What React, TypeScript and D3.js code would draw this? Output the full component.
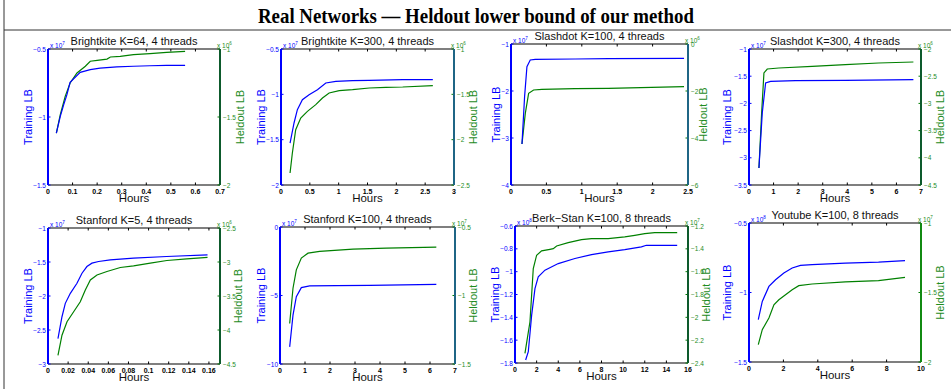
import React from 'react';
import * as d3 from 'd3';

const FIG_TITLE = 'Real Networks — Heldout lower bound of our method';

const panelTitles = [
  'Brightkite K=64, 4 threads',
  'Brightkite K=300, 4 threads',
  'Slashdot K=100, 4 threads',
  'Slashdot K=300, 4 threads',
  'Stanford K=5, 4 threads',
  'Stanford K=100, 4 threads',
  'Berk\u2212Stan K=100, 8 threads',
  'Youtube K=100, 8 threads',
];

const trainExp = [7, 7, 7, 7, 7, 7, 8, 8];
const heldExp = [6, 6, 6, 6, 6, 7, 7, 7];

const xDomains = [[0, 0.7], [0, 3], [0, 2.5], [0, 7], [0, 0.171], [0, 7], [0, 16], [0, 10]];
const xTicks = [
  [0, 0.1, 0.2, 0.3, 0.4, 0.5, 0.6, 0.7],
  [0, 0.5, 1, 1.5, 2, 2.5, 3],
  [0, 0.5, 1, 1.5, 2, 2.5],
  [0, 1, 2, 3, 4, 5, 6, 7],
  [0, 0.02, 0.04, 0.06, 0.08, 0.1, 0.12, 0.14, 0.16],
  [0, 1, 2, 3, 4, 5, 6, 7],
  [0, 2, 4, 6, 8, 10, 12, 14, 16],
  [0, 2, 4, 6, 8, 10],
];

const trainDomains = [[-1.5, -0.5], [-2, -0.5], [-4, -1], [-3.5, -1], [-3, -1], [-10, 0], [-1.8, -0.6], [-1.5, -0.5]];
const trainTicks = [
  [-1.5, -1, -0.5],
  [-2, -1.5, -1, -0.5],
  [-4, -3, -2, -1],
  [-3.5, -3, -2.5, -2, -1.5, -1],
  [-3, -2.5, -2, -1.5, -1],
  [-10, -5, 0],
  [-1.8, -1.6, -1.4, -1.2, -1, -0.8, -0.6],
  [-1.5, -1, -0.5],
];
const heldDomains = [[-2, -1], [-2.5, -1], [-6, 0], [-4.5, -2], [-4.5, -2.5], [-1.5, -0.5], [-2.4, -1.2], [-2, -1]];
const heldTicks = [
  [-2, -1.5, -1],
  [-2.5, -2, -1.5, -1],
  [-6, -4, -2, 0],
  [-4.5, -4, -3.5, -3, -2.5, -2],
  [-4.5, -4, -3.5, -3, -2.5],
  [-1.5, -1, -0.5],
  [-2.4, -2.2, -2, -1.8, -1.6, -1.4, -1.2],
  [-2, -1.5, -1],
];

// ---- data: [hours, value] ----
const brightkite64Train = [[0.034, -1.118], [0.05, -0.995], [0.064, -0.909], [0.077, -0.836], [0.09, -0.745], [0.131, -0.672], [0.172, -0.652], [0.212, -0.64], [0.28, -0.632], [0.348, -0.627], [0.415, -0.623], [0.483, -0.62], [0.558, -0.62]];
const brightkite64Held = [[0.034, -1.618], [0.05, -1.483], [0.07, -1.348], [0.09, -1.25], [0.118, -1.176], [0.152, -1.127], [0.172, -1.09], [0.2, -1.083], [0.24, -1.074], [0.254, -1.059], [0.294, -1.054], [0.348, -1.042], [0.415, -1.034], [0.483, -1.025], [0.558, -1.017]];

const brightkite300Train = [[0.157, -1.537], [0.226, -1.316], [0.284, -1.169], [0.371, -1.059], [0.487, -1.004], [0.632, -0.949], [0.777, -0.875], [0.951, -0.857], [1.241, -0.849], [1.531, -0.846], [2.11, -0.838], [2.633, -0.838]];
const brightkite300Held = [[0.157, -2.368], [0.197, -2.147], [0.255, -1.89], [0.342, -1.761], [0.458, -1.688], [0.603, -1.614], [0.719, -1.54], [0.835, -1.485], [1.009, -1.46], [1.241, -1.449], [1.531, -1.43], [1.82, -1.423], [2.11, -1.419], [2.633, -1.404]];

const slashdot100Train = [[0.155, -3.128], [0.192, -2.12], [0.225, -1.482], [0.272, -1.34], [0.342, -1.326], [0.905, -1.319], [1.374, -1.312], [2.444, -1.305]];
const slashdot100Held = [[0.155, -4.255], [0.202, -2.95], [0.249, -2.1], [0.319, -1.957], [0.436, -1.929], [0.905, -1.9], [1.374, -1.887], [2.444, -1.816]];

const slashdot300Train = [[0.405, -3.188], [0.54, -2.176], [0.676, -1.625], [0.878, -1.594], [1.89, -1.582], [3.92, -1.576], [6.69, -1.564]];
const slashdot300Held = [[0.405, -4.188], [0.514, -3.176], [0.608, -2.441], [0.743, -2.368], [1.216, -2.349], [2.57, -2.319], [3.92, -2.288], [5.27, -2.257], [6.69, -2.239]];

const stanford5Train = [[0.0099, -2.626], [0.0139, -2.305], [0.0172, -2.108], [0.0222, -1.961], [0.0288, -1.813], [0.0338, -1.665], [0.0387, -1.567], [0.0437, -1.517], [0.0503, -1.493], [0.0619, -1.468], [0.0851, -1.443], [0.118, -1.419], [0.1586, -1.394]];
const stanford5Held = [[0.0099, -4.372], [0.0139, -4.076], [0.0189, -3.879], [0.0255, -3.732], [0.0321, -3.584], [0.0371, -3.411], [0.0421, -3.264], [0.0487, -3.19], [0.0586, -3.14], [0.0719, -3.081], [0.0851, -3.057], [0.1017, -3.017], [0.1182, -2.978], [0.138, -2.953], [0.1586, -2.933]];

const stanford100Train = [[0.387, -8.753], [0.52, -6.43], [0.653, -5.086], [0.853, -4.425], [1.187, -4.303], [2.253, -4.279], [3.587, -4.254], [6.253, -4.181]];
const stanford100Held = [[0.387, -1.204], [0.52, -0.947], [0.653, -0.813], [0.853, -0.727], [1.12, -0.691], [1.587, -0.678], [2.92, -0.661], [4.253, -0.654], [6.253, -0.647]];

const berkStanTrain = [[0.985, -1.774], [1.23, -1.701], [1.54, -1.381], [1.846, -1.148], [2.15, -1.046], [2.77, -0.987], [4.0, -0.929], [5.54, -0.885], [7.08, -0.85], [8.62, -0.827], [10.15, -0.807], [11.69, -0.783], [12.15, -0.769], [15.0, -0.769]];
const berkStanHeld = [[0.92, -2.315], [1.385, -2.039], [1.69, -1.573], [2.0, -1.456], [2.46, -1.418], [3.23, -1.404], [3.54, -1.398], [3.85, -1.375], [4.92, -1.346], [6.15, -1.319], [7.08, -1.311], [8.62, -1.311], [10.15, -1.296], [11.08, -1.282], [12.0, -1.267], [12.92, -1.258], [15.0, -1.258]];

const youtubeTrain = [[0.54, -1.195], [0.772, -1.064], [1.158, -0.956], [1.544, -0.908], [2.027, -0.86], [2.51, -0.824], [2.992, -0.805], [3.668, -0.8], [5.6, -0.788], [7.53, -0.781], [9.07, -0.771]];
const youtubeHeld = [[0.54, -1.875], [0.772, -1.767], [1.158, -1.683], [1.448, -1.588], [1.737, -1.552], [2.124, -1.516], [2.51, -1.48], [2.896, -1.451], [3.668, -1.439], [5.6, -1.424], [7.53, -1.415], [9.07, -1.391]];

const trainSeries = [brightkite64Train, brightkite300Train, slashdot100Train, slashdot300Train, stanford5Train, stanford100Train, berkStanTrain, youtubeTrain];
const heldSeries = [brightkite64Held, brightkite300Held, slashdot100Held, slashdot300Held, stanford5Held, stanford100Held, berkStanHeld, youtubeHeld];

// ---- layout (pixels) ----
const boxes = [
  { l: 48, r: 220, t: 49, b: 185 },
  { l: 281, r: 454, t: 49, b: 185 },
  { l: 511, r: 688, t: 44, b: 185 },
  { l: 749, r: 921, t: 49, b: 185 },
  { l: 48, r: 220, t: 228, b: 364 },
  { l: 280, r: 455, t: 227, b: 364 },
  { l: 515, r: 688, t: 226, b: 363 },
  { l: 749, r: 921, t: 223, b: 362 },
];
const trainLabelX = [28, 261, 496, 727, 28, 261, 495, 727];
const heldLabelX = [240, 473, 703, 940, 238, 473, 706, 940];
const rightAxisColor = ['#0d5a2c', '#1f6585', '#1f6585', '#0d5a2c', '#0d5a2c', '#1f6585', '#0d5a2c', '#118a11'];

const BLUE = '#0000ff';
const GREEN = '#008000';
const TXT_GREEN = '#1e8c1e';
const SANS = '"Liberation Sans", Arial, sans-serif';

function fmt(v: number) {
  return d3.format('~g')(+v.toFixed(4)).replace('-', '\u2212');
}

function Panel({ i }: { i: number }) {
  const bx = boxes[i];
  const x = d3.scaleLinear().domain(xDomains[i]).range([bx.l, bx.r]);
  const yL = d3.scaleLinear().domain(trainDomains[i]).range([bx.b, bx.t]);
  const yR = d3.scaleLinear().domain(heldDomains[i]).range([bx.b, bx.t]);
  const lineL = d3.line<number[]>().x((d) => x(d[0])).y((d) => yL(d[1]));
  const lineR = d3.line<number[]>().x((d) => x(d[0])).y((d) => yR(d[1]));
  const cy = (bx.t + bx.b) / 2;
  return (
    <g>
      <text x={(bx.l + bx.r) / 2} y={bx.t - 4} textAnchor="middle" fontSize={11} fontFamily={SANS} fill="#111">
        {panelTitles[i]}
      </text>
      <line x1={bx.l} x2={bx.r} y1={bx.t} y2={bx.t} stroke="#000" strokeWidth={1.2} />
      <line x1={bx.l} x2={bx.r} y1={bx.b} y2={bx.b} stroke="#000" strokeWidth={1.2} />
      {xTicks[i].map((t, k) => (
        <g key={k}>
          <line x1={x(t)} x2={x(t)} y1={bx.b} y2={bx.b - 2.5} stroke="#000" strokeWidth={1} />
          <line x1={x(t)} x2={x(t)} y1={bx.t} y2={bx.t + 2.5} stroke="#000" strokeWidth={1} />
          <text x={x(t)} y={bx.b + 8.5} textAnchor="middle" fontSize={7} fontWeight="bold" fontFamily={SANS} fill="#000">
            {fmt(t)}
          </text>
        </g>
      ))}
      <text x={(bx.l + bx.r) / 2} y={bx.b + 17} textAnchor="middle" fontSize={11.5} fontFamily={SANS} fill="#111">
        Hours
      </text>
      {trainTicks[i].map((t, k) => (
        <g key={k}>
          <line x1={bx.l} x2={bx.l + 2.5} y1={yL(t)} y2={yL(t)} stroke={BLUE} strokeWidth={1} />
          <text x={bx.l - 2} y={yL(t) + 2.5} textAnchor="end" fontSize={6.5} fontFamily={SANS} fill={BLUE}>
            {fmt(t)}
          </text>
        </g>
      ))}
      <text x={bx.l + 2} y={bx.t - 1.5} fontSize={6.5} fontFamily={SANS} fill={BLUE}>
        x 10<tspan dy={-3} fontSize={4.5}>{trainExp[i]}</tspan>
      </text>
      {heldTicks[i].map((t, k) => (
        <g key={k}>
          <line x1={bx.r} x2={bx.r - 2.5} y1={yR(t)} y2={yR(t)} stroke={GREEN} strokeWidth={1} />
          <text x={bx.r + 3} y={yR(t) + 2.5} textAnchor="start" fontSize={6.5} fontFamily={SANS} fill={TXT_GREEN}>
            {fmt(t)}
          </text>
        </g>
      ))}
      <text x={bx.r - 3} y={bx.t - 1.5} fontSize={6.5} fontFamily={SANS} fill={TXT_GREEN}>
        x 10<tspan dy={-3} fontSize={4.5}>{heldExp[i]}</tspan>
      </text>
      <path d={lineR(heldSeries[i]) || ''} fill="none" stroke={GREEN} strokeWidth={1.2} />
      <path d={lineL(trainSeries[i]) || ''} fill="none" stroke={BLUE} strokeWidth={1.2} />
      <line x1={bx.l} x2={bx.l} y1={bx.t} y2={bx.b} stroke={BLUE} strokeWidth={2} />
      <line x1={bx.r} x2={bx.r} y1={bx.t} y2={bx.b} stroke={rightAxisColor[i]} strokeWidth={2} />
      <text transform={`translate(${trainLabelX[i] + 4},${cy}) rotate(-90)`} textAnchor="middle" fontSize={11} fontFamily={SANS} fill={BLUE}>
        Training LB
      </text>
      <text transform={`translate(${heldLabelX[i] + 4},${cy}) rotate(-90)`} textAnchor="middle" fontSize={11} fontFamily={SANS} fill={TXT_GREEN}>
        Heldout LB
      </text>
    </g>
  );
}

export default function App() {
  return (
    <svg width={951} height={389} style={{ position: 'absolute', left: 0, top: 0, background: '#fff' }}>
      <rect x={0} y={0} width={951} height={389} fill="#fff" />
      <text x={476} y={23} textAnchor="middle" fontSize={22} fontWeight="bold" textLength={436} lengthAdjust="spacingAndGlyphs" fontFamily='"Liberation Serif", "Times New Roman", serif' fill="#000">
        {FIG_TITLE}
      </text>
      <line x1={4} x2={951} y1={30} y2={30} stroke="#333" strokeWidth={1} />
      <line x1={4} x2={4} y1={0} y2={389} stroke="#333" strokeWidth={1} />
      {panelTitles.map((_, i) => (
        <Panel key={i} i={i} />
      ))}
    </svg>
  );
}
